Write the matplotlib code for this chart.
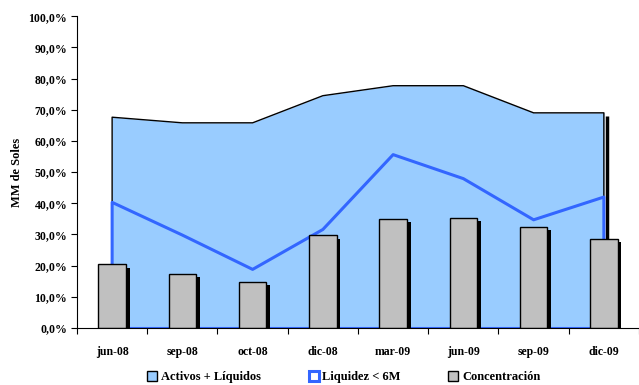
import matplotlib
matplotlib.use("Agg")
import matplotlib.pyplot as plt
from matplotlib.patches import Patch
from matplotlib.ticker import FuncFormatter
import numpy as np

# quarterly series, percent
periods = ["jun-08", "sep-08", "oct-08", "dic-08", "mar-09", "jun-09", "sep-09", "dic-09"]
activos_liquidos = [67.6, 65.8, 65.8, 74.5, 77.7, 77.7, 69.0, 69.0]
liquidez_6m = [40.3, 29.8, 18.8, 31.6, 55.6, 47.9, 34.7, 42.0]
concentracion = [20.4, 17.3, 14.8, 29.7, 35.0, 35.3, 32.4, 28.5]

AREA_FILL = "#99CCFF"
LINE_BLUE = "#3366FF"
BAR_GREY = "#C0C0C0"

plt.rcParams["font.family"] = ["Liberation Serif", "DejaVu Serif"]
plt.rcParams["font.weight"] = "bold"
plt.rcParams["axes.labelweight"] = "bold"
plt.rcParams["font.size"] = 8.5

fig = plt.figure(figsize=(6.39, 3.85), dpi=100)
ax = fig.add_axes([0.1205, 0.148, 0.8795, 0.810])

x = np.arange(len(periods))

# Activos + Liquidos: filled area with thin black outline and a dark drop edge on the right
ax.fill_between(x, 0, activos_liquidos, color=AREA_FILL, lw=0, zorder=1)
ax.plot(np.r_[x[0], x, x[-1]], np.r_[0, activos_liquidos, 0], color="black", lw=1.0, zorder=2)
ax.plot([x[-1] + 0.045, x[-1] + 0.045], [0, activos_liquidos[-1] - 1.0], color="black",
        lw=2.5, zorder=1.5, solid_capstyle="butt")

# Liquidez < 6M: unfilled area, blue outline
ax.plot(np.r_[x[0], x, x[-1]], np.r_[0, liquidez_6m, 0], color=LINE_BLUE, lw=2.2, zorder=3)
ax.plot([x[0], x[-1]], [0, 0], color=LINE_BLUE, lw=2.2, zorder=3)

# Concentracion: grey bars with a black shadow
bw = 0.39
ax.bar(x + 0.055, np.array(concentracion) - 1.0, width=bw, color="black", lw=0, zorder=4)
ax.bar(x, concentracion, width=bw, color=BAR_GREY, edgecolor="black", lw=1.0, zorder=5)

ax.set_xlim(-0.5, len(periods) - 0.5)
ax.set_ylim(0, 100)
ax.set_yticks(np.arange(0, 101, 10))
ax.yaxis.set_major_formatter(FuncFormatter(lambda v, _: f"{v:.1f}%".replace(".", ",")))
ax.set_xticks(x)
ax.set_xticklabels(periods)
ax.set_xticks(np.arange(-0.5, len(periods) + 0.5, 1.0), minor=True)
ax.tick_params(axis="x", which="major", length=0, pad=13)
ax.tick_params(axis="x", which="minor", length=4, width=0.8, direction="out")
ax.tick_params(axis="y", length=4, width=0.8, direction="out", pad=3)

for side in ("top", "right"):
    ax.spines[side].set_visible(False)
for side in ("left", "bottom"):
    ax.spines[side].set_linewidth(0.8)
ax.spines["left"].set_zorder(6)
ax.spines["bottom"].set_zorder(6)

ax.set_ylabel("MM de Soles", labelpad=4, fontsize=9)

handles = [
    Patch(facecolor=AREA_FILL, edgecolor="black", lw=1.0, label="Activos + Líquidos"),
    Patch(facecolor="white", edgecolor=LINE_BLUE, lw=2.2, label="Liquidez < 6M"),
    Patch(facecolor=BAR_GREY, edgecolor="black", lw=1.0, label="Concentración"),
]
fig.legend(handles=handles, loc="lower center", bbox_to_anchor=(0.538, -0.025), ncol=3,
           frameon=False, handlelength=0.8, handleheight=0.8, handletextpad=0.3,
           columnspacing=3.8, fontsize=9)

fig.savefig("out.png", dpi=100)
